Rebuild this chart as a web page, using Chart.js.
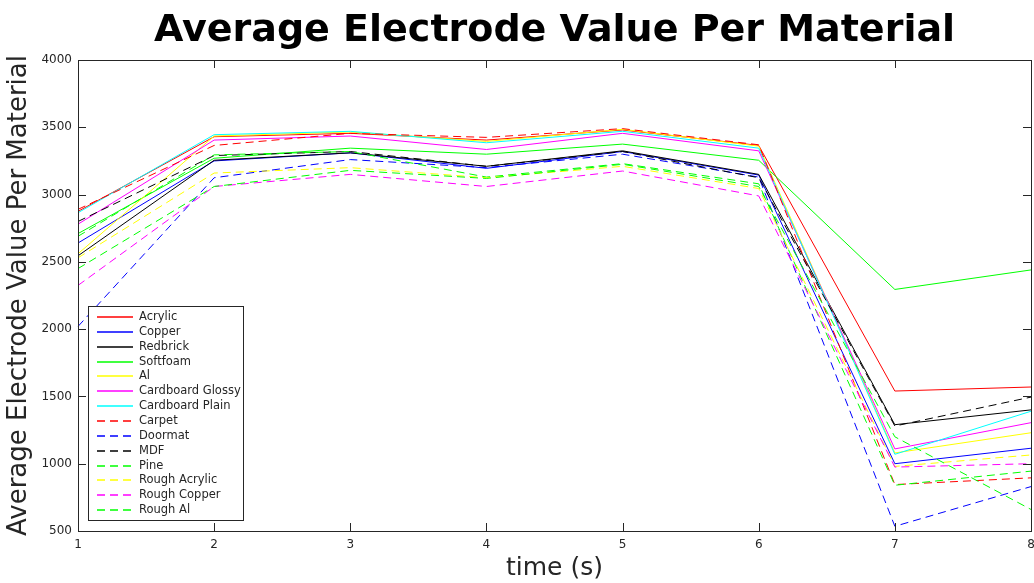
<!DOCTYPE html>
<html>
<head>
<meta charset="utf-8">
<script src="https://cdn.jsdelivr.net/npm/chart.js@4/dist/chart.umd.min.js"></script>
<style>
  html, body { margin: 0; padding: 0; background: #fff; }
  #wrap { width: 1034px; height: 583px; }
</style>
</head>
<body>
<div id="wrap"><canvas id="chart"></canvas></div>
<script>
// values, one point per second
var timeLabels = ['1', '2', '3', '4', '5', '6', '7', '8'];
var yTicks = [500, 1000, 1500, 2000, 2500, 3000, 3500, 4000];

var acrylic         = [2875, 3430, 3455, 3405, 3480, 3365, 1540, 1570];
var copper          = [2640, 3250, 3310, 3195, 3320, 3145, 1000, 1115];
var redbrick        = [2545, 3255, 3310, 3210, 3325, 3150, 1290, 1400];
var softfoam        = [2710, 3270, 3345, 3300, 3375, 3255, 2295, 2440];
var al              = [2560, 3435, 3465, 3395, 3485, 3360, 1080, 1230];
var cardboardGlossy = [2780, 3405, 3435, 3335, 3455, 3325, 1110, 1305];
var cardboardPlain  = [2865, 3445, 3470, 3385, 3470, 3345, 1070, 1390];
var carpet          = [2890, 3365, 3455, 3425, 3490, 3370, 845, 895];
var doormat         = [2020, 3125, 3260, 3200, 3300, 3130, 535, 830];
var mdf             = [2800, 3290, 3320, 3210, 3320, 3125, 1280, 1495];
var pine            = [2690, 3295, 3320, 3130, 3230, 3080, 840, 945];
var roughAcrylic    = [2530, 3160, 3200, 3125, 3210, 3045, 980, 1065];
var roughCopper     = [2325, 3060, 3150, 3060, 3175, 2990, 975, 1000];
var roughAl         = [2450, 3060, 3180, 3120, 3225, 3060, 1200, 660];

var names = ['Acrylic', 'Copper', 'Redbrick', 'Softfoam', 'Al', 'Cardboard Glossy',
  'Cardboard Plain', 'Carpet', 'Doormat', 'MDF', 'Pine', 'Rough Acrylic',
  'Rough Copper', 'Rough Al'];
var values = [acrylic, copper, redbrick, softfoam, al, cardboardGlossy, cardboardPlain,
  carpet, doormat, mdf, pine, roughAcrylic, roughCopper, roughAl];

// matlab style colours, first 7 solid then 7 dashed
var colors = ['#ff0000', '#0000ff', '#000000', '#00ff00', '#ffff00', '#ff00ff', '#00ffff',
  '#ff0000', '#0000ff', '#000000', '#00ff00', '#ffff00', '#ff00ff', '#00ff00'];
var dash = [8, 5];

var datasets = names.map(function (n, i) {
  return {
    label: n,
    data: values[i],
    borderColor: colors[i],
    backgroundColor: colors[i],
    borderWidth: 1,
    borderDash: i >= 7 ? dash : [],
    pointRadius: 0,
    tension: 0,
    fill: false,
    order: names.length - i
  };
});

var axisColor = '#262626';

// box, inward ticks, title and legend like the matlab figure
var matlabLook = {
  id: 'matlabLook',
  afterDatasetsDraw: function (chart) {
    var ctx = chart.ctx;
    var a = chart.chartArea;
    var xs = chart.scales.x, ys = chart.scales.y;
    ctx.save();
    ctx.strokeStyle = axisColor;
    ctx.lineWidth = 1;
    ctx.strokeRect(Math.round(a.left) + 0.5, Math.round(a.top) + 0.5,
      Math.round(a.right - a.left), Math.round(a.bottom - a.top));
    var tl = 8;
    ctx.beginPath();
    yTicks.forEach(function (v) {
      var y = Math.round(ys.getPixelForValue(v)) + 0.5;
      ctx.moveTo(a.left, y); ctx.lineTo(a.left + tl, y);
      ctx.moveTo(a.right, y); ctx.lineTo(a.right - tl, y);
    });
    timeLabels.forEach(function (t, i) {
      var x = Math.round(xs.getPixelForValue(i)) + 0.5;
      ctx.moveTo(x, a.bottom); ctx.lineTo(x, a.bottom - tl);
      ctx.moveTo(x, a.top); ctx.lineTo(x, a.top + tl);
    });
    ctx.stroke();

    // title centred over the plot area
    ctx.fillStyle = '#000';
    ctx.font = 'bold 38px "DejaVu Sans"';
    ctx.textAlign = 'center';
    ctx.textBaseline = 'middle';
    ctx.fillText('Average Electrode Value Per Material', (a.left + a.right) / 2, 31);

    // legend in the lower left corner
    var bx = 88.5, by = 306.5, bw = 155, bh = 214;
    ctx.fillStyle = '#fff';
    ctx.fillRect(bx, by, bw, bh);
    ctx.strokeStyle = axisColor;
    ctx.strokeRect(bx, by, bw, bh);
    ctx.font = '11.5px "DejaVu Sans"';
    ctx.textAlign = 'left';
    chart.data.datasets.forEach(function (d, i) {
      var y = Math.round(317 + i * 14.85);
      ctx.strokeStyle = d.borderColor;
      ctx.lineWidth = 1.3;
      ctx.setLineDash(d.borderDash);
      ctx.beginPath();
      ctx.moveTo(97, y); ctx.lineTo(133, y);
      ctx.stroke();
      ctx.setLineDash([]);
      ctx.fillStyle = '#262626';
      ctx.fillText(d.label, 139, y);
    });
    ctx.restore();
  }
};

new Chart(document.getElementById('chart'), {
  type: 'line',
  data: { labels: timeLabels, datasets: datasets },
  options: {
    responsive: true,
    maintainAspectRatio: false,
    animation: false,
    layout: { autoPadding: false, padding: { top: 60, right: 3, left: 0, bottom: 0 } },
    plugins: {
      legend: { display: false },
      title: { display: false },
      tooltip: { enabled: false }
    },
    scales: {
      x: {
        type: 'category',
        offset: false,
        grid: { display: false, drawTicks: false },
        border: { display: false },
        ticks: { color: axisColor, padding: 7, maxRotation: 0, font: { family: 'DejaVu Sans', size: 12 } },
        title: { display: true, text: 'time (s)', color: '#262626', padding: { top: 0, bottom: 0 },
          font: { family: 'DejaVu Sans', size: 25 } },
        afterFit: function (s) {
          s.height = 52;
          s.paddingLeft = 0;
          s.paddingRight = 0;
        }
      },
      y: {
        min: 500,
        max: 4000,
        grid: { display: false, drawTicks: false },
        border: { display: false },
        ticks: {
          stepSize: 500, color: axisColor, padding: 6, font: { family: 'DejaVu Sans', size: 12 },
          callback: function (v) { return String(v); }
        },
        title: { display: true, text: 'Average Electrode Value Per Material', color: '#262626',
          padding: { top: 4, bottom: 0 }, font: { family: 'DejaVu Sans', size: 26 } },
        afterFit: function (s) {
          s.width = 78;
          s.paddingTop = 0;
          s.paddingBottom = 0;
        }
      }
    }
  },
  plugins: [matlabLook]
});
</script>
</body>
</html>
